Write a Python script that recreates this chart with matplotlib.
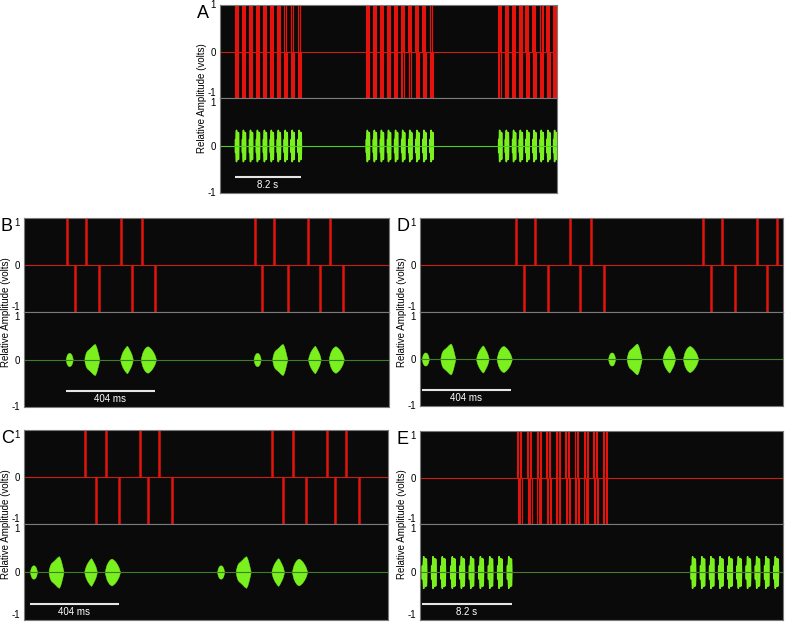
"""Stimulus trains (red) and song oscillograms (green), panels A-E."""

import matplotlib.pyplot as plt
import numpy as np

# ---- song template (ms from first syllable onset) ----
syl_start = [0, 85, 247, 341]
syl_end = [32, 153, 304, 409]
syl_amp = [0.14, 0.33, 0.29, 0.28]
syl_profiles = [
    [0.1, 0.6, 0.85, 0.97, 1.0, 0.97, 0.85, 0.6, 0.1],
    [0.1, 0.4, 0.55, 0.62, 0.68, 0.75, 0.82, 0.9, 0.96, 1.0, 0.86, 0.62, 0.32, 0],
    [0.05, 0.35, 0.55, 0.7, 0.82, 0.93, 1.0, 0.88, 0.72, 0.56, 0.36, 0.05],
    [0.1, 0.5, 0.72, 0.87, 0.96, 1.0, 0.93, 0.84, 0.72, 0.56, 0.36, 0.05],
]
# stimulus pulse offsets inside one song (ms)
pulse_up_offset = [6, 92, 250, 348]
pulse_down_offset = [41, 153, 300, 406]

# ---- panels B, C, D (ms) ----
b_song_onsets = [189, 1041]
b_up = [195, 281, 439, 537, 1046, 1132, 1289, 1386]
b_down = [230, 342, 489, 595, 1081, 1195, 1341, 1445]

c_song_onsets = [27, 878]
c_up = [278, 372, 527, 613, 1129, 1223, 1377, 1465]
c_down = [327, 433, 563, 675, 1177, 1280, 1412, 1525]

d_song_onsets = [8, 855]
d_up = [437, 522, 680, 776, 1288, 1373, 1531, 1621]
d_down = [471, 584, 728, 835, 1321, 1433, 1579]

# ---- panels A and E (s) ----
a_song_onsets = [1.86, 2.72, 3.60, 4.46, 5.33, 6.19, 7.06, 7.92, 8.78, 9.65,
                 18.13, 19.00, 19.88, 20.76, 21.64, 22.52, 23.40, 24.28, 25.16, 26.05,
                 34.58, 35.41, 36.31, 37.15, 37.97, 38.84, 39.75, 40.57, 41.41]
a_stim_onsets = a_song_onsets

e_song_onsets = [0.16, 1.01, 1.86, 2.77, 3.60, 4.45, 5.33, 6.18, 7.03, 7.91,
                 24.66, 25.50, 26.33, 27.16, 28.00, 28.83, 29.67, 30.50, 31.34, 32.20]
e_stim_onsets = [8.85, 9.76, 10.66, 11.50, 12.37, 13.23, 14.07, 14.93, 15.80, 16.65]

W, H = 785, 622
BG = "#0a0a0a"
RED = "#e4140c"
LIME = "#7af01e"
FONT = ["Liberation Sans", "DejaVu Sans"]


def draw_songs(ax, onsets, scale, edge_lw):
    for t0 in onsets:
        for s, e, amp, prof in zip(syl_start, syl_end, syl_amp, syl_profiles):
            xs = np.linspace(t0 + s * scale, t0 + e * scale, len(prof))
            env = amp * np.array(prof)
            ax.fill_between(xs, -env, env, color=LIME, lw=edge_lw, edgecolor=LIME)


def panel(fig, box, letter, xmax, up, down, songs, song_scale, zero_green,
          bar_len, bar_text, spike_lw, edge_lw=0.3, top_va="top", bottom_va="center"):
    left, right, top, mid, bottom = box
    ax_t = fig.add_axes([left / W, 1 - mid / H, (right - left) / W, (mid - top) / H])
    ax_b = fig.add_axes([left / W, 1 - bottom / H, (right - left) / W, (bottom - mid) / H])
    for ax in (ax_t, ax_b):
        ax.set_facecolor(BG)
        ax.set_xlim(0, xmax)
        ax.set_ylim(-1, 1)
        ax.set_xticks([])
        ax.set_yticks([-1, 0, 1], ["-1", "0", "1"])
        ax.tick_params(axis="y", length=0, pad=3, labelsize=7)
        for lab in ax.get_yticklabels():
            lab.set_family(FONT)
        for sp in ax.spines.values():
            sp.set_color("#7a7a7a")
            sp.set_linewidth(0.8)
    # keep the labels at the shared edge apart
    t_labels = ax_t.get_yticklabels()
    b_labels = ax_b.get_yticklabels()
    t_labels[0].set_va("bottom")
    t_labels[2].set_va(top_va)
    b_labels[2].set_va("top")
    b_labels[0].set_va(bottom_va)

    ax_t.axhline(0, color="#c81e14", lw=0.8)
    ax_t.vlines(up, 0, 1, color=RED, lw=spike_lw)
    ax_t.vlines(down, -1, 0, color=RED, lw=spike_lw)

    ax_b.axhline(0, color=zero_green, lw=0.8)
    draw_songs(ax_b, songs, song_scale, edge_lw)

    x0 = songs[0]
    ax_b.plot([x0, x0 + bar_len], [-0.67, -0.67], color="#e6e6e6", lw=1.5,
              solid_capstyle="butt")
    ax_b.text(x0 + bar_len / 2, -0.83, bar_text, color="white", fontsize=7,
              ha="center", va="center", family=FONT)

    fig.text((left - 18) / W, 1 - mid / H, "Relative Amplitude (volts)",
             rotation=90, fontsize=7, ha="center", va="center", family=FONT)
    fig.text((left - 23) / W, 1 - (top + 13) / H, letter, fontsize=13,
             ha="left", va="baseline", family=FONT)


def expand(onsets, offsets):
    return [t0 + o / 1000 for t0 in onsets for o in offsets]


def main():
    fig = plt.figure(figsize=(W / 100, H / 100), dpi=100)
    fig.patch.set_facecolor("white")

    panel(fig, (220, 557, 5, 98, 193), "A", 41.9,
          expand(a_stim_onsets, pulse_up_offset), expand(a_stim_onsets, pulse_down_offset),
          a_song_onsets, 1 / 1000, "#4fcf22", 8.2, "8.2 s", 0.8, edge_lw=1.1,
          top_va="center")
    panel(fig, (24, 389, 218, 312, 407), "B", 1655, b_up, b_down,
          b_song_onsets, 1, "#3f7f2a", 404, "404 ms", 1.8)
    panel(fig, (420, 783, 218, 312, 406), "D", 1650, d_up, d_down,
          d_song_onsets, 1, "#3f7f2a", 404, "404 ms", 1.8)
    panel(fig, (24, 388, 430, 524, 620), "C", 1655, c_up, c_down,
          c_song_onsets, 1, "#3f7f2a", 404, "404 ms", 1.8, bottom_va="bottom")
    panel(fig, (420, 783, 431, 524, 620), "E", 33.07,
          expand(e_stim_onsets, pulse_up_offset), expand(e_stim_onsets, pulse_down_offset),
          e_song_onsets, 1 / 1000, "#4a7a30", 8.2, "8.2 s", 0.8, edge_lw=1.1,
          bottom_va="bottom")

    fig.savefig("out.png", dpi=100, facecolor="white")
    plt.close(fig)


if __name__ == "__main__":
    main()
